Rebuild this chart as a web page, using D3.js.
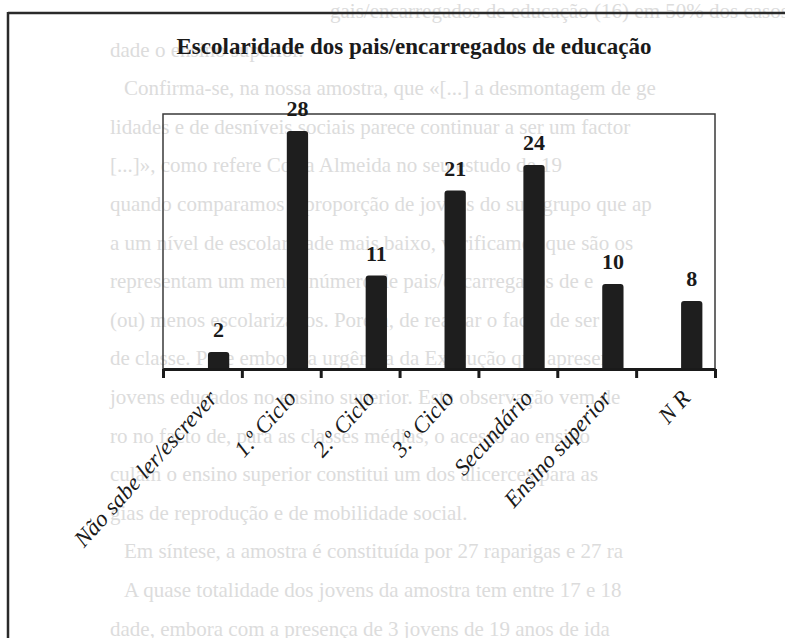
<!DOCTYPE html>
<html>
<head>
<meta charset="utf-8">
<script src="https://cdn.jsdelivr.net/npm/d3@7"></script>
<style>
  body { margin: 0; background: #fff; }
  svg { display: block; }
</style>
</head>
<body>
<div id="chart"></div>
<script>
// data
const categories = ["Não sabe ler/escrever", "1.º Ciclo", "2.º Ciclo", "3.º Ciclo", "Secundário", "Ensino superior", "N R"];
const values = [2, 28, 11, 21, 24, 10, 8];
const title = "Escolaridade dos pais/encarregados de educação";

// faint text of the page behind the chart
const pageLines = [
  "gais/encarregados de educação (16) em 50% dos casos",
  "dade o ensino superior.",
  "Confirma-se, na nossa amostra, que «[...] a desmontagem de ge",
  "lidades e de desníveis sociais parece continuar a ser um factor",
  "[...]», como refere Costa Almeida no seu estudo de 19",
  "quando comparamos a proporção de jovens do sub-grupo que ap",
  "a um nível de escolaridade mais baixo, verificamos que são os",
  "representam um menor número de pais/encarregados de e",
  "(ou) menos escolarizados. Porém, de realçar o facto de ser",
  "de classe. Pese embora a urgência da Execução que apresen",
  "jovens educados no ensino superior. Esta observação vem de",
  "ro no facto de, para as classes médias, o acesso ao ensino",
  "culam o ensino superior constitui um dos alicerces para as",
  "gias de reprodução e de mobilidade social.",
  "Em síntese, a amostra é constituída por 27 raparigas e 27 ra",
  "A quase totalidade dos jovens da amostra tem entre 17 e 18",
  "dade, embora com a presença de 3 jovens de 19 anos de ida"
];
const indented = [2, 14, 15];

const W = 785, H = 638;
const serif = "'Liberation Serif', 'DejaVu Serif', serif";

const svg = d3.select("#chart").append("svg")
  .attr("width", W)
  .attr("height", H);

// background page text
svg.append("g")
  .selectAll("text")
  .data(pageLines)
  .enter()
  .append("text")
  .attr("x", (d, i) => i == 0 ? 330 : (indented.includes(i) ? 124 : 110))
  .attr("y", (d, i) => 18 + i * 38.6)
  .style("font-family", serif)
  .style("font-size", "21px")
  .attr("fill", "#dcdcdc")
  .text(d => d);

// outer frame (top + left)
svg.append("line")
  .attr("x1", 8).attr("x2", W).attr("y1", 13).attr("y2", 13)
  .attr("stroke", "#2a2a2a").attr("stroke-width", 2.5);
svg.append("line")
  .attr("x1", 8).attr("x2", 8).attr("y1", 12).attr("y2", H)
  .attr("stroke", "#2a2a2a").attr("stroke-width", 2.5);

svg.append("text")
  .attr("x", 414)
  .attr("y", 54)
  .attr("text-anchor", "middle")
  .style("font-family", serif)
  .style("font-weight", "bold")
  .style("font-size", "23px")
  .attr("fill", "#1a1a1a")
  .text(title);

// plot area
const plotL = 163, plotR = 715, plotT = 114, plotB = 369;

const x = d3.scaleBand()
  .domain(categories)
  .range([plotL, plotR])
  .padding(0);

const y = d3.scaleLinear()
  .domain([0, 30])
  .range([plotB, plotT]);

const bw = x.bandwidth();
const barX = c => x(c) + bw * 0.57;
const barW = bw * 0.27;

svg.append("rect")
  .attr("x", plotL).attr("y", plotT)
  .attr("width", plotR - plotL).attr("height", plotB - plotT)
  .attr("fill", "none")
  .attr("stroke", "#3a3a3a")
  .attr("stroke-width", 1.5);

// bars, rounded at top
svg.append("g")
  .selectAll("path")
  .data(values)
  .enter()
  .append("path")
  .attr("d", (d, i) => {
    const x0 = barX(categories[i]), x1 = x0 + barW;
    const y0 = y(d), r = 3;
    return `M${x0},${plotB} L${x0},${y0 + r} Q${x0},${y0} ${x0 + r},${y0} L${x1 - r},${y0} Q${x1},${y0} ${x1},${y0 + r} L${x1},${plotB} Z`;
  })
  .attr("fill", "#1e1e1e");

// value labels
svg.append("g")
  .selectAll("text")
  .data(values)
  .enter()
  .append("text")
  .attr("x", (d, i) => barX(categories[i]) + barW / 2)
  .attr("y", d => y(d) - 15)
  .attr("text-anchor", "middle")
  .style("font-family", serif)
  .style("font-weight", "bold")
  .style("font-size", "22px")
  .attr("fill", "#1a1a1a")
  .text(d => d);

// axis with ticks at the band edges
const edge = d3.scaleLinear().domain([0, categories.length]).range([plotL, plotR]);
const axis = svg.append("g")
  .attr("transform", `translate(0,${plotB})`)
  .call(d3.axisBottom(edge)
    .tickValues(d3.range(categories.length + 1))
    .tickFormat("")
    .tickSize(9)
    .tickSizeOuter(0));
axis.select(".domain").attr("stroke", "#1a1a1a").attr("stroke-width", 3);
axis.selectAll(".tick line").attr("stroke", "#1a1a1a").attr("stroke-width", 3);

// category labels
svg.append("g")
  .selectAll("text")
  .data(categories)
  .enter()
  .append("text")
  .attr("transform", c => `translate(${barX(c) + barW / 2},${plotB + 30}) rotate(-48)`)
  .attr("text-anchor", "end")
  .style("font-family", serif)
  .style("font-style", "italic")
  .style("font-size", "23px")
  .attr("fill", "#1a1a1a")
  .text(c => c);
</script>
</body>
</html>
